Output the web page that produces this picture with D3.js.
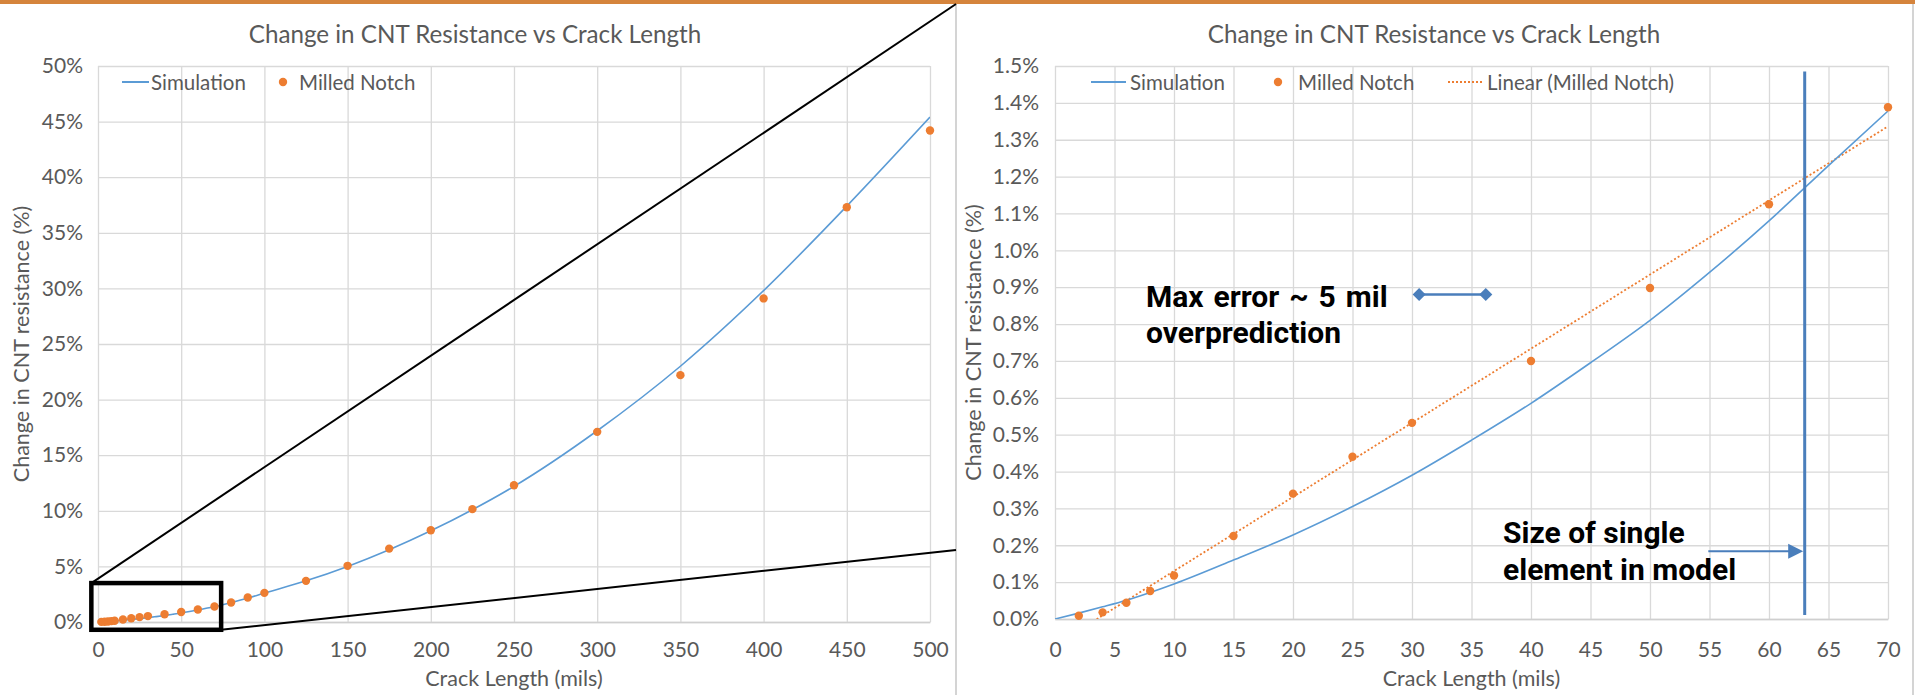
<!DOCTYPE html>
<html><head><meta charset="utf-8">
<script src="https://cdn.jsdelivr.net/npm/d3@7"></script>
<style>
html,body{margin:0;padding:0;background:#fff;overflow:hidden;}
svg{display:block;}
</style></head><body><svg id="c" width="1915" height="695"></svg>
<script>
// ---------------- data ----------------
const simCrack  = [0,2,4,6,8,10,15,20,25,30,35,40,45,50,55,60,65,70,80,90,100,125,150,175,200,225,250,300,350,400,450,500];
const simChange = [0,0.016,0.033,0.051,0.072,0.095,0.16,0.228,0.305,0.39,0.485,0.585,0.695,0.81,0.94,1.08,1.23,1.378,1.75,2.15,2.6,3.7,5.0,6.5,8.2,10.1,12.2,17.2,23.0,29.8,37.4,45.4];
const notchCrack  = [2,4,6,8,10,15,20,25,30,40,50,60,70,80,90,100,125,150,175,200,225,250,300,350,400,450,500];
const notchChange = [0.009,0.018,0.044,0.076,0.118,0.225,0.34,0.44,0.532,0.70,0.898,1.125,1.388,1.76,2.2,2.62,3.7,5.05,6.6,8.25,10.15,12.3,17.1,22.2,29.1,37.3,44.2];

const chartTitle = "Change in CNT Resistance vs Crack Length";
const xTitle = "Crack Length (mils)";
const yTitle = "Change in CNT resistance (%)";
const legendLeft  = ["Simulation","Milled Notch"];
const legendRight = ["Simulation","Milled Notch","Linear (Milled Notch)"];

const leftXTicks  = [0,50,100,150,200,250,300,350,400,450,500];
const leftYTicks  = [0,5,10,15,20,25,30,35,40,45,50];
const leftYLabels = ["0%","5%","10%","15%","20%","25%","30%","35%","40%","45%","50%"];
const rightXTicks = [0,5,10,15,20,25,30,35,40,45,50,55,60,65,70];
const rightYTicks = [0,0.1,0.2,0.3,0.4,0.5,0.6,0.7,0.8,0.9,1.0,1.1,1.2,1.3,1.4,1.5];
const rightYLabels = ["0.0%","0.1%","0.2%","0.3%","0.4%","0.5%","0.6%","0.7%","0.8%","0.9%","1.0%","1.1%","1.2%","1.3%","1.4%","1.5%"];

// zoom box on the left chart (mils, %)
const zoomBoxCrack = [-4, 74];
const zoomBoxChange = [-0.7, 3.5];
// annotations on the right chart (mils, %)
const maxErrorText = ["Max error ~ 5 mil", "overprediction"];
const maxErrorBar = [30.6, 36.2];
const maxErrorLevel = 0.88;
const elementText = ["Size of single", "element in model"];
const elementSizeMil = 63;
const elementArrowFrom = 54.9;
const elementArrowLevel = 0.184;

// ---------------- styles ----------------
const C_SIM = "#5B9BD5", C_PT = "#ED7D31", C_GRID = "#d9d9d9", C_TXT = "#595959", C_ANN = "#4a7ebb";
const FONT = "Lato, 'Open Sans', sans-serif";

const svg = d3.select("#c");
svg.append("rect").attr("width",1915).attr("height",695).attr("fill","#fff");

const simData = simCrack.map((c,i)=>({c, v: simChange[i]}));
const notchData = notchCrack.map((c,i)=>({c, v: notchChange[i]}));

function drawChart(cfg){
  const {x, y, xTicks, yTicks, yLabels, titleX, yTitleX, xPad, yPad, legend, maxX, trend, id} = cfg;
  const [x0,x1] = x.range(), [y0,y1] = y.range();
  const g = svg.append("g");
  // grid
  g.append("g").attr("transform",`translate(0,${y1})`)
    .call(d3.axisTop(x).tickValues(xTicks).tickSize(-(y0-y1)).tickFormat(""))
    .call(s=>s.select(".domain").remove())
    .call(s=>s.selectAll("line").attr("stroke",C_GRID).attr("stroke-width",1.3));
  g.append("g").attr("transform",`translate(${x0},0)`)
    .call(d3.axisLeft(y).tickValues(yTicks).tickSize(-(x1-x0)).tickFormat(""))
    .call(s=>s.select(".domain").remove())
    .call(s=>s.selectAll("line").attr("stroke",C_GRID).attr("stroke-width",1.3));
  // x labels
  g.append("g").attr("transform",`translate(0,${y0})`)
    .call(d3.axisBottom(x).tickValues(xTicks).tickSize(0).tickPadding(xPad))
    .call(s=>s.select(".domain").attr("stroke","#cfcfcf").attr("stroke-width",1.5))
    .call(s=>s.selectAll("text").attr("fill",C_TXT).attr("font-size",21).attr("font-family",FONT));
  // y labels
  g.append("g").attr("transform",`translate(${x0},0)`)
    .call(d3.axisLeft(y).tickValues(yTicks).tickSize(0).tickPadding(yPad).tickFormat((d,i)=>yLabels[i]))
    .call(s=>s.select(".domain").remove())
    .call(s=>s.selectAll("text").attr("fill",C_TXT).attr("font-size",21).attr("font-family",FONT));
  // titles
  g.append("text").attr("x",titleX).attr("y",43).attr("text-anchor","middle")
    .attr("font-family",FONT).attr("font-size",24.2).attr("fill",C_TXT).text(chartTitle);
  g.append("text").attr("x",(x0+x1)/2).attr("y",686).attr("text-anchor","middle")
    .attr("font-family",FONT).attr("font-size",21.5).attr("fill",C_TXT).text(xTitle);
  g.append("text").attr("transform",`translate(${yTitleX},${(y0+y1)/2}) rotate(-90)`)
    .attr("text-anchor","middle").attr("dominant-baseline","central")
    .attr("font-family",FONT).attr("font-size",21.5).attr("fill",C_TXT).text(yTitle);

  // clip
  svg.append("clipPath").attr("id",id).append("rect")
    .attr("x",x0).attr("y",y1).attr("width",x1-x0).attr("height",y0-y1);
  const line = d3.line().x(d=>x(d.c)).y(d=>y(d.v)).curve(d3.curveMonotoneX);
  const sim = simData.filter(d=>d.c<=maxX);
  const pts = notchData.filter(d=>d.c<=maxX);
  if(trend){
    const mx = d3.mean(pts,d=>d.c), my = d3.mean(pts,d=>d.v);
    const m = d3.sum(pts,d=>(d.c-mx)*(d.v-my))/d3.sum(pts,d=>(d.c-mx)**2);
    const b = my - m*mx;
    const ext = d3.extent(pts,d=>d.c);
    g.append("path").attr("clip-path",`url(#${id})`)
      .attr("d", d3.line().x(d=>x(d)).y(d=>y(m*d+b))(ext))
      .attr("fill","none").attr("stroke",C_PT).attr("stroke-width",1.8).attr("stroke-dasharray","2,2.2");
  }
  g.append("path").attr("clip-path",`url(#${id})`).attr("d",line(sim))
    .attr("fill","none").attr("stroke",C_SIM).attr("stroke-width",1.6);
  g.selectAll(null).data(pts).join("circle")
    .attr("cx",d=>x(d.c)).attr("cy",d=>y(d.v)).attr("r",4.2).attr("fill",C_PT);

  // legend
  const ly = 82;
  const lg = g.append("g").attr("font-family",FONT).attr("font-size",20.5).attr("fill",C_TXT);
  legend.forEach(it=>{
    if(it.type==="line") lg.append("line").attr("x1",it.x).attr("x2",it.x+it.w).attr("y1",ly).attr("y2",ly)
      .attr("stroke",C_SIM).attr("stroke-width",2);
    if(it.type==="dot") lg.append("circle").attr("cx",it.x).attr("cy",ly).attr("r",4.2).attr("fill",C_PT);
    if(it.type==="dash") lg.append("line").attr("x1",it.x).attr("x2",it.x+it.w).attr("y1",ly).attr("y2",ly)
      .attr("stroke",C_PT).attr("stroke-width",1.8).attr("stroke-dasharray","2,2");
    lg.append("text").attr("x",it.tx).attr("y",ly).attr("dominant-baseline","central").text(it.label);
  });
  return g;
}

// ---------------- left chart ----------------
const xL = d3.scaleLinear([0,500],[98,930]);
const yL = d3.scaleLinear([0,50],[622,66]);
drawChart({x:xL, y:yL, xTicks:leftXTicks, yTicks:leftYTicks, yLabels:leftYLabels,
  titleX:475, yTitleX:21, xPad:20, yPad:15, maxX:500, trend:false, id:"clipL",
  legend:[{type:"line",x:122,w:27,tx:151,label:legendLeft[0]},{type:"dot",x:283,tx:299,label:legendLeft[1]}]});

// ---------------- right chart ----------------
const xR = d3.scaleLinear([0,70],[1055,1888]);
const yR = d3.scaleLinear([0,1.5],[619,66]);
drawChart({x:xR, y:yR, xTicks:rightXTicks, yTicks:rightYTicks, yLabels:rightYLabels,
  titleX:1434, yTitleX:973, xPad:23, yPad:16, maxX:70, trend:true, id:"clipR",
  legend:[{type:"line",x:1091,w:35,tx:1130,label:legendRight[0]},{type:"dot",x:1278,tx:1298,label:legendRight[1]},
          {type:"dash",x:1448,w:34,tx:1487,label:legendRight[2]}]});

// panel borders and top bar
svg.append("line").attr("x1",956).attr("x2",956).attr("y1",4).attr("y2",695).attr("stroke","#d4d4d4").attr("stroke-width",2);
svg.append("line").attr("x1",1913).attr("x2",1913).attr("y1",4).attr("y2",695).attr("stroke","#d4d4d4").attr("stroke-width",2);
svg.append("rect").attr("x",0).attr("y",0).attr("width",1915).attr("height",4).attr("fill","#D5843C");

// zoom box + connectors
svg.append("rect").attr("x",xL(zoomBoxCrack[0])).attr("y",yL(zoomBoxChange[1]))
  .attr("width",xL(zoomBoxCrack[1])-xL(zoomBoxCrack[0])).attr("height",yL(zoomBoxChange[0])-yL(zoomBoxChange[1]))
  .attr("fill","none").attr("stroke","#000").attr("stroke-width",4.5);
svg.append("line").attr("x1",xL(zoomBoxCrack[0])).attr("y1",yL(zoomBoxChange[1])).attr("x2",956).attr("y2",4)
  .attr("stroke","#000").attr("stroke-width",2);
svg.append("line").attr("x1",xL(zoomBoxCrack[1])).attr("y1",yL(zoomBoxChange[0])).attr("x2",956).attr("y2",550)
  .attr("stroke","#000").attr("stroke-width",2);

// annotations (right chart)
const ann = svg.append("g").attr("font-family","Roboto, 'Liberation Sans', Arial, sans-serif").attr("font-weight","bold")
  .attr("font-size",30).attr("fill","#000");
ann.append("text").attr("x",xR(7.65)).attr("y",yR(0.846)).attr("word-spacing",2.5).text(maxErrorText[0]);
ann.append("text").attr("x",xR(7.65)).attr("y",yR(0.749)).text(maxErrorText[1]);
ann.append("text").attr("x",xR(37.65)).attr("y",yR(0.206)).text(elementText[0]);
ann.append("text").attr("x",xR(37.65)).attr("y",yR(0.106)).text(elementText[1]);

svg.append("line").attr("x1",xR(maxErrorBar[0])).attr("x2",xR(maxErrorBar[1]))
  .attr("y1",yR(maxErrorLevel)).attr("y2",yR(maxErrorLevel)).attr("stroke",C_ANN).attr("stroke-width",2.5);
svg.selectAll(null).data(maxErrorBar).join("path")
  .attr("transform",d=>`translate(${xR(d)},${yR(maxErrorLevel)}) rotate(45)`)
  .attr("d",d3.symbol(d3.symbolSquare,85)()).attr("fill",C_ANN);

svg.append("line").attr("x1",xR(elementSizeMil)).attr("x2",xR(elementSizeMil))
  .attr("y1",yR(1.485)).attr("y2",yR(0.011)).attr("stroke",C_ANN).attr("stroke-width",3);
const tipX = xR(elementSizeMil)-1.5, ay = yR(elementArrowLevel);
svg.append("line").attr("x1",xR(elementArrowFrom)).attr("x2",tipX-12).attr("y1",ay).attr("y2",ay)
  .attr("stroke",C_ANN).attr("stroke-width",2);
svg.append("path").attr("d",`M${tipX},${ay}L${tipX-15},${ay-7.5}L${tipX-15},${ay+7.5}Z`).attr("fill",C_ANN);
</script></body></html>
